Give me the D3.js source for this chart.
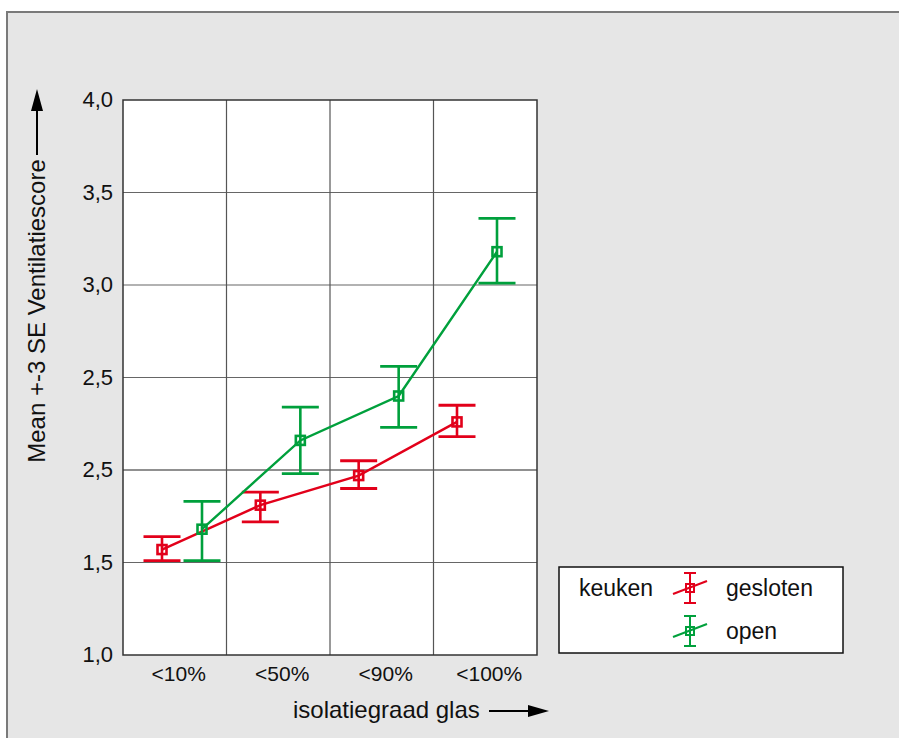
<!DOCTYPE html>
<html>
<head>
<meta charset="utf-8">
<script src="https://cdn.jsdelivr.net/npm/d3@7"></script>
<style>
  body { margin: 0; background: #fff; }
  text { font-family: "Liberation Sans", Arial, sans-serif; fill: #111; }
</style>
</head>
<body>
<div id="chart"></div>
<script>
// data
var categories = ["<10%", "<50%", "<90%", "<100%"];
var yTicks = [1.0, 1.5, 2.0, 2.5, 3.0, 3.5, 4.0];
var yTickLabels = ["1,0", "1,5", "2,5", "2,5", "3,0", "3,5", "4,0"]; // as printed in the original
var geslotenMean = [1.57, 1.81, 1.97, 2.26];
var geslotenLo = [1.51, 1.72, 1.90, 2.18];
var geslotenHi = [1.64, 1.88, 2.05, 2.35];
var openMean = [1.68, 2.16, 2.40, 3.18];
var openLo = [1.51, 1.98, 2.23, 3.01];
var openHi = [1.83, 2.34, 2.56, 3.36];
var seriesNames = ["gesloten", "open"];
var seriesColors = ["#e2001a", "#00a03c"];

var w = 899, h = 738;
var svg = d3.select("#chart").append("svg")
  .attr("width", w).attr("height", h);

// grey background frame
svg.append("rect").attr("x", 7).attr("y", 12).attr("width", w + 10).attr("height", h + 10)
  .attr("fill", "#e6e6e6").attr("stroke", "#7a7a7a").attr("stroke-width", 2);

var pLeft = 123, pRight = 537, pTop = 100, pBottom = 655;

var x = d3.scaleBand().domain(categories).range([pLeft, pRight]);
var xp = d3.scalePoint().domain(categories).range([182, 477]); // group centers of the markers
var y = d3.scaleLinear().domain([1, 4]).range([pBottom, pTop]);

var plot = svg.append("g");
plot.append("rect").attr("x", pLeft).attr("y", pTop)
  .attr("width", pRight - pLeft).attr("height", pBottom - pTop)
  .attr("fill", "#fff");

// gridlines
plot.selectAll(".hgrid").data(yTicks.slice(1, -1)).enter().append("line")
  .attr("x1", pLeft).attr("x2", pRight)
  .attr("y1", function(d){return y(d);}).attr("y2", function(d){return y(d);})
  .attr("stroke", function(d){return d === 2 ? "#222" : "#666";}).attr("stroke-width", 1.2);
plot.selectAll(".vgrid").data(categories.slice(1)).enter().append("line")
  .attr("x1", function(d){return x(d);}).attr("x2", function(d){return x(d);})
  .attr("y1", pTop).attr("y2", pBottom)
  .attr("stroke", "#555").attr("stroke-width", 1.2);
plot.append("rect").attr("x", pLeft).attr("y", pTop)
  .attr("width", pRight - pLeft).attr("height", pBottom - pTop)
  .attr("fill", "none").attr("stroke", "#333").attr("stroke-width", 1.5);

// y tick labels
svg.selectAll(".ylab").data(yTicks).enter().append("text")
  .attr("x", 113).attr("y", function(d){return y(d) + 7;})
  .attr("text-anchor", "end").attr("font-size", 22)
  .text(function(d, i){return yTickLabels[i];});

// x tick labels
svg.selectAll(".xlab").data(categories).enter().append("text")
  .attr("x", function(d){return x(d) + x.bandwidth() / 2 + 4;}).attr("y", 681)
  .attr("text-anchor", "middle").attr("font-size", 21)
  .text(function(d){return d;});

// axis titles with arrows
svg.append("text")
  .attr("transform", "translate(45,311) rotate(-90)")
  .attr("text-anchor", "middle").attr("font-size", 24)
  .text("Mean +-3 SE Ventilatiescore");
svg.append("line").attr("x1", 37).attr("x2", 37).attr("y1", 155).attr("y2", 105)
  .attr("stroke", "#000").attr("stroke-width", 2);
svg.append("path").attr("d", "M37,89 L31,111 L43,111 Z").attr("fill", "#000");

svg.append("text").attr("x", 293).attr("y", 718).attr("font-size", 24)
  .text("isolatiegraad glas");
svg.append("line").attr("x1", 489).attr("x2", 532).attr("y1", 711).attr("y2", 711)
  .attr("stroke", "#000").attr("stroke-width", 2);
svg.append("path").attr("d", "M549,711 L528,705 L528,717 Z").attr("fill", "#000");

// series
var series = [
  {name: seriesNames[0], color: seriesColors[0], off: -20, mean: geslotenMean, lo: geslotenLo, hi: geslotenHi},
  {name: seriesNames[1], color: seriesColors[1], off: 20, mean: openMean, lo: openLo, hi: openHi}
];
var capW = 37, sq = 9;

series.forEach(function(s){
  var pts = categories.map(function(c, i){
    return {x: xp(c) + s.off, m: s.mean[i], lo: s.lo[i], hi: s.hi[i]};
  });
  var line = d3.line().x(function(d){return d.x;}).y(function(d){return y(d.m);});
  var g = svg.append("g").attr("stroke", s.color).attr("fill", "none");
  g.append("path").attr("d", line(pts)).attr("stroke-width", 2.4);

  var eb = g.selectAll(".eb").data(pts).enter().append("g");
  eb.append("line")
    .attr("x1", function(d){return d.x;}).attr("x2", function(d){return d.x;})
    .attr("y1", function(d){return y(d.lo);}).attr("y2", function(d){return y(d.hi);})
    .attr("stroke-width", 2.6);
  eb.append("line")
    .attr("x1", function(d){return d.x - capW / 2;}).attr("x2", function(d){return d.x + capW / 2;})
    .attr("y1", function(d){return y(d.hi);}).attr("y2", function(d){return y(d.hi);})
    .attr("stroke-width", 2.8);
  eb.append("line")
    .attr("x1", function(d){return d.x - capW / 2;}).attr("x2", function(d){return d.x + capW / 2;})
    .attr("y1", function(d){return y(d.lo);}).attr("y2", function(d){return y(d.lo);})
    .attr("stroke-width", 2.8);
  eb.append("rect")
    .attr("x", function(d){return d.x - sq / 2;}).attr("y", function(d){return y(d.m) - sq / 2;})
    .attr("width", sq).attr("height", sq)
    .attr("stroke-width", 2.6);
});

// legend
var lg = svg.append("g");
lg.append("rect").attr("x", 559).attr("y", 567).attr("width", 284).attr("height", 86)
  .attr("fill", "#fff").attr("stroke", "#111").attr("stroke-width", 1.5);
lg.append("text").attr("x", 579).attr("y", 596).attr("font-size", 23).text("keuken");
series.forEach(function(s, i){
  var cy = 588 + i * 43;
  var item = lg.append("g").attr("stroke", s.color).attr("fill", "none").attr("stroke-width", 2);
  item.append("line").attr("x1", 673).attr("x2", 707).attr("y1", cy + 6).attr("y2", cy - 7);
  item.append("line").attr("x1", 690).attr("x2", 690).attr("y1", cy - 15).attr("y2", cy + 15);
  item.append("line").attr("x1", 684).attr("x2", 696).attr("y1", cy - 15).attr("y2", cy - 15);
  item.append("line").attr("x1", 684).attr("x2", 696).attr("y1", cy + 15).attr("y2", cy + 15);
  item.append("rect").attr("x", 686).attr("y", cy - 4).attr("width", 8).attr("height", 8);
  lg.append("text").attr("x", 726).attr("y", cy + 8).attr("font-size", 23).text(s.name);
});
</script>
</body>
</html>
